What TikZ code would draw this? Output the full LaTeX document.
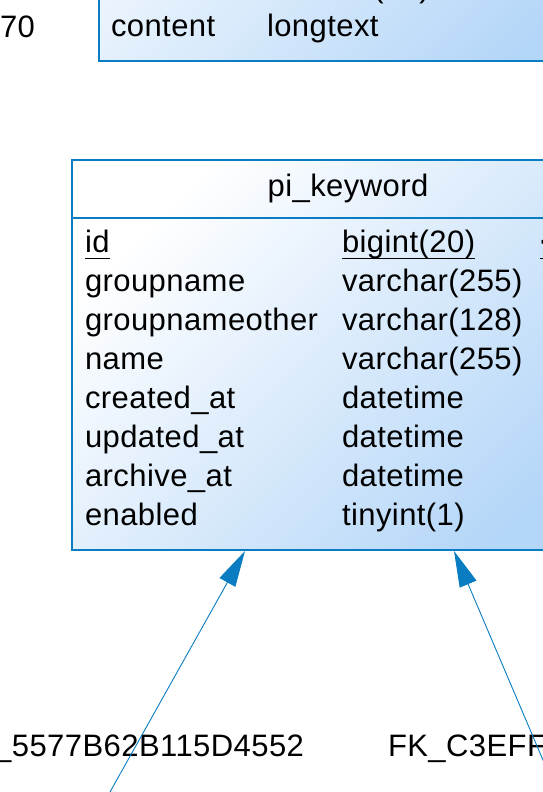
\documentclass[tikz,border=0pt]{standalone}
\usepackage{fontspec}
\setmainfont[LetterSpace=1.4]{Liberation Sans}
\usetikzlibrary{arrows.meta,calc}
\definecolor{erline}{HTML}{0A7CC1}
\definecolor{erlight}{HTML}{FFFFFF}
\definecolor{erdark}{HTML}{B4D6F8}
\newcommand{\ulx}[1]{\setbox0\hbox{#1}\rlap{\rule[-6.5pt]{\wd0}{1.2pt}}\box0}
\begin{document}
\begin{tikzpicture}[x=1pt,y=1pt,
  every node/.style={inner sep=0pt, outer sep=0pt, font=\fontsize{31}{37}\selectfont, text=black},
  tablebox/.style={draw=erline, line width=1.2pt, shading=axis, top color=erlight, bottom color=erdark, shading angle=45, anchor=south west},
  cell/.style={anchor=base west},
  fk/.style={draw=erline, line width=0.9pt, -{Triangle[length=36pt,width=18pt]}}]
\useasboundingbox (0,0) rectangle (543,792);
\clip (0,0) rectangle (543,792);
% upper table (cut off)
\node[tablebox, minimum width=541pt, minimum height=361pt] (ct) at (99,731) {};
\node[cell] (ct1a) at (111,794) {title};
\node[cell] (ct1b) at (267,794) {varchar(32)};
\node[cell] (ct2a) at (111,755) {content};
\node[cell] (ct2b) at (267,755) {longtext};
\node[anchor=base east] (lbl70) at (35,754) {70};
% pi_keyword table
\node[tablebox, minimum width=552pt, minimum height=390pt] (kw) at (72,242) {};
\draw[draw=erline, line width=1.2pt] ($(kw.north west)+(0,-58)$) -- ($(kw.north east)+(0,-58)$);
\node[anchor=base] (kwtitle) at (348,595) {pi\_keyword};
\node[cell] (r1a) at (85,539) {\ulx{id}};
\node[cell] (r1b) at (342,539) {\ulx{bigint(20)}};
\node[cell] (r1c) at (540,539) {\ulx{<pk>}};
\node[cell] (r2a) at (85,500) {groupname};
\node[cell] (r2b) at (342,500) {varchar(255)};
\node[cell] (r3a) at (85,461) {groupnameother};
\node[cell] (r3b) at (342,461) {varchar(128)};
\node[cell] (r4a) at (85,422) {name};
\node[cell] (r4b) at (342,422) {varchar(255)};
\node[cell] (r5a) at (85,383) {created\_at};
\node[cell] (r5b) at (342,383) {datetime};
\node[cell] (r6a) at (85,344) {updated\_at};
\node[cell] (r6b) at (342,344) {datetime};
\node[cell] (r7a) at (85,305) {archive\_at};
\node[cell] (r7b) at (342,305) {datetime};
\node[cell] (r8a) at (85,266) {enabled};
\node[cell] (r8b) at (342,266) {tinyint(1)};
% references
\node[anchor=base east] (fk1) at (304,35) {FK\_5577B62B115D4552};
\node[anchor=base west] (fk2) at (388,35) {FK\_C3EFF8};
\coordinate (s1) at (104.4,-10);
\coordinate (s2) at (560,-8);
\coordinate (t1) at ($(kw.south west)+(173,-1)$);
\coordinate (t2) at ($(kw.south west)+(382,-1)$);
\draw[fk] (s1) -- (t1);
\draw[fk] (s2) -- (t2);
\end{tikzpicture}
\end{document}
